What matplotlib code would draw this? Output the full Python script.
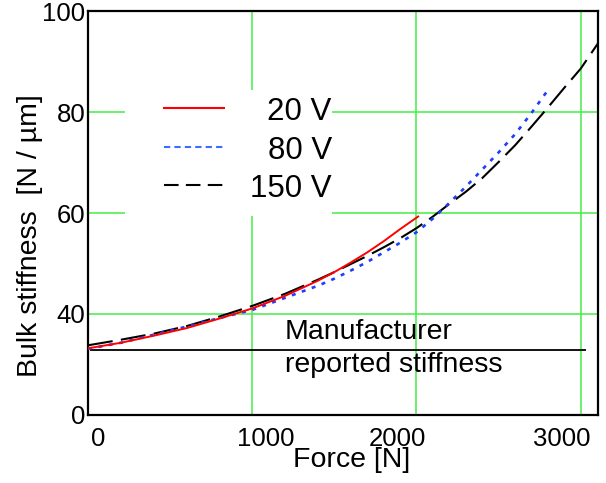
import matplotlib.pyplot as plt
from matplotlib.transforms import ScaledTranslation
from matplotlib.patches import Rectangle

plt.rcParams['font.family'] = ['Liberation Sans', 'DejaVu Sans']

# values
force_20v = [0, 200, 400, 600, 800, 1000, 1200, 1400, 1500, 1600, 1700, 1800, 1900, 2010]
stiff_20v = [33.2, 34.3, 35.7, 37.2, 39.1, 41.1, 43.6, 46.6, 48.3, 50.2, 52.2, 54.4, 56.8, 59.3]

force_80v = [0, 200, 400, 600, 800, 1000, 1200, 1400, 1500, 1600, 1700, 1800, 1900, 2000,
             2100, 2200, 2300, 2400, 2500, 2600, 2700, 2810]
stiff_80v = [33.1, 34.3, 35.9, 37.5, 39.2, 40.8, 43.2, 45.6, 47.0, 48.6, 50.3, 52.2, 54.1, 56.2,
             58.9, 62.0, 65.2, 68.6, 72.0, 75.6, 79.8, 84.8]

force_150v = [0, 200, 400, 600, 800, 1000, 1200, 1400, 1500, 1600, 1700, 1800, 1900, 2000,
              2100, 2200, 2300, 2400, 2500, 2600, 2700, 2800, 2900, 3000, 3105]
stiff_150v = [33.8, 34.9, 36.1, 37.6, 39.5, 41.6, 44.0, 46.8, 48.3, 49.9, 51.5, 53.2, 55.0, 57.0,
              59.3, 61.8, 64.2, 66.9, 70.1, 73.4, 77.1, 80.9, 84.8, 88.6, 93.6]

manufacturer_stiffness = 32.9
manufacturer_force_end = 3030

xticks = [0, 1000, 2000, 3000]
xtick_labels = ['0', '1000', '2000', '3000']
yticks = [20, 40, 60, 80, 100]
ytick_labels = ['0', '40', '60', '80', '100']

fig = plt.figure(figsize=(6.06, 4.83), dpi=100)
ax = fig.add_axes([0.1452, 0.1408, 0.8416, 0.8364])

ax.plot(force_150v, stiff_150v, color='black', linewidth=1.5, linestyle=(0, (12, 4)), zorder=3)
ax.plot(force_80v, stiff_80v, color='#1f3fff', linewidth=1.9, linestyle=(0, (1.5, 2.5)), zorder=4)
ax.plot(force_20v, stiff_20v, color='#ff0000', linewidth=1.4, zorder=5)

ax.hlines(manufacturer_stiffness, 12, manufacturer_force_end, color='black', linewidth=1.3, zorder=3)
ax.text(1200, 33.2, 'Manufacturer\nreported stiffness', fontsize=20.5, ha='left', va='center',
        linespacing=1.35, zorder=6)

ax.set_xlim(12, 3105)
ax.set_ylim(20, 100)
ax.set_xticks(xticks)
ax.set_xticklabels(xtick_labels)
ax.set_yticks(yticks)
ax.set_yticklabels(ytick_labels)
ax.tick_params(axis='both', length=0, labelsize=18.5)
ax.tick_params(axis='x', pad=9)
ax.tick_params(axis='y', pad=2)

# the x tick labels sit off the grid lines in the original
x_offsets = [10, 14, -19, -19]
for lbl, dx in zip(ax.get_xticklabels(), x_offsets):
    lbl.set_transform(lbl.get_transform() + ScaledTranslation(dx / 100, 0, fig.dpi_scale_trans))

ax.grid(True, color='#44ee44', linewidth=1.1)
ax.set_axisbelow(True)
for s in ax.spines.values():
    s.set_linewidth(1.6)

ax.set_xlabel('Force [N]', fontsize=20.5)
ax.xaxis.set_label_coords(0.516, -0.111)
ax.xaxis.label.set_va('center')
ax.set_ylabel('Bulk stiffness  [N / \u00b5m]', fontsize=20.5)
ax.yaxis.set_label_coords(-0.114, 0.443)
ax.yaxis.label.set_va('center')

# legend drawn by hand: white block, sample lines and right-aligned labels
ax.add_patch(Rectangle((0.073, 0.493), 0.405, 0.311, transform=ax.transAxes,
                       facecolor='white', edgecolor='none', zorder=2))
leg_y = [0.760, 0.663, 0.569]
leg_labels = ['20 V', '80 V', '150 V']
leg_styles = [dict(color='#ff0000', linewidth=1.5, linestyle='-'),
              dict(color='#3a6cff', linewidth=1.5, linestyle=(0, (3, 2))),
              dict(color='black', linewidth=1.5, linestyle=(0, (7, 3.5)))]
for y, lab, st in zip(leg_y, leg_labels, leg_styles):
    ax.plot([0.149, 0.267], [y, y], transform=ax.transAxes, zorder=6, **st)
    ax.text(0.478, y - 0.01, lab, transform=ax.transAxes, fontsize=22.5,
            ha='right', va='center', zorder=6)

fig.savefig('out.png', dpi=100)
